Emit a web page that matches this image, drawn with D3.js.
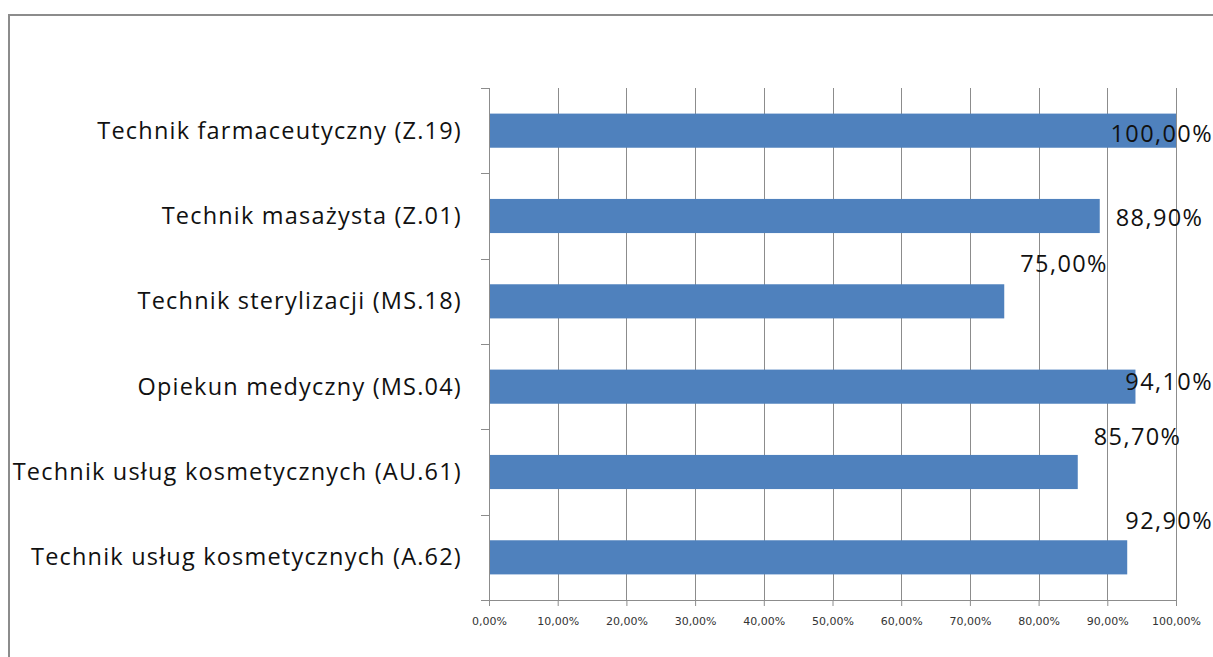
<!DOCTYPE html>
<html>
<head>
<meta charset="utf-8">
<script src="https://cdn.jsdelivr.net/npm/d3@7"></script>
<style>
  html, body { margin: 0; padding: 0; background: #fff; }
  svg { display: block; }
</style>
</head>
<body>
<div id="chart"></div>
<script>
var categories = [
    "Technik farmaceutyczny (Z.19)",
    "Technik masażysta (Z.01)",
    "Technik sterylizacji (MS.18)",
    "Opiekun medyczny (MS.04)",
    "Technik usług kosmetycznych (AU.61)",
    "Technik usług kosmetycznych (A.62)"
];
var values = [100.0, 88.9, 75.0, 94.1, 85.7, 92.9];
var xTicks = [0, 10, 20, 30, 40, 50, 60, 70, 80, 90, 100];

function pct(v) { return v.toFixed(2).replace(".", ",") + "%"; }

var W = 1213, H = 657;
var margin = {top: 88, right: 37, bottom: 57, left: 489};
var width = W - margin.left - margin.right;
var height = H - margin.top - margin.bottom;

var root = d3.select("#chart").append("svg")
    .attr("width", W)
    .attr("height", H);

// outer frame
root.append("rect")
    .attr("x", 9).attr("y", 15)
    .attr("width", W + 20).attr("height", H + 20)
    .attr("fill", "none")
    .attr("stroke", "#8c8c8c")
    .attr("stroke-width", 2);

var svg = root.append("g")
    .attr("transform", "translate(" + margin.left + "," + margin.top + ")");

var x = d3.scaleLinear().domain([0, 100]).range([0, width]);
var y = d3.scaleBand().domain(categories).range([0, height]).paddingInner(0.6).paddingOuter(0.3);
var yb = d3.scaleBand().domain(categories).range([0, height]);

// vertical gridlines
svg.append("g")
    .selectAll("line")
    .data(xTicks.slice(1))
    .enter().append("line")
    .attr("x1", function(d) { return Math.round(x(d)) + 0.5; })
    .attr("x2", function(d) { return Math.round(x(d)) + 0.5; })
    .attr("y1", 0).attr("y2", height)
    .attr("stroke", "#8c8c8c").attr("stroke-width", 1);

// bars
svg.selectAll(".bar")
    .data(values)
    .enter().append("rect")
    .attr("class", "bar")
    .attr("x", 0)
    .attr("y", function(d, i) { return y(categories[i]); })
    .attr("width", function(d) { return x(d); })
    .attr("height", y.bandwidth())
    .attr("fill", "#4f81bd");

// x axis
var xAxis = svg.append("g")
    .attr("transform", "translate(0," + height + ")")
    .call(d3.axisBottom(x).tickValues(xTicks).tickSize(6).tickSizeOuter(0).tickFormat(pct));
xAxis.select(".domain").attr("stroke", "#8c8c8c");
xAxis.selectAll(".tick line").attr("stroke", "#8c8c8c");
xAxis.selectAll("text")
    .attr("y", 17)
    .style("font-family", "'DejaVu Sans', sans-serif")
    .style("font-size", "11px")
    .style("fill", "#333");

// y axis
var yAxisG = svg.append("g");
yAxisG.append("line")
    .attr("x1", 0.5).attr("x2", 0.5).attr("y1", 0).attr("y2", height)
    .attr("stroke", "#8c8c8c");
yAxisG.selectAll(".ytick")
    .data(d3.range(categories.length + 1))
    .enter().append("line")
    .attr("x1", -8).attr("x2", 0)
    .attr("y1", function(i) { return Math.round(i * yb.step()) + 0.5; })
    .attr("y2", function(i) { return Math.round(i * yb.step()) + 0.5; })
    .attr("stroke", "#8c8c8c");

yAxisG.selectAll(".ylabel")
    .data(categories)
    .enter().append("text")
    .attr("x", -27)
    .attr("y", function(d) { return yb(d) + yb.bandwidth() / 2 + 8; })
    .attr("text-anchor", "end")
    .style("font-family", "'Open Sans', sans-serif")
    .style("font-size", "23.5px")
    .style("letter-spacing", "1.2px")
    .style("fill", "#111")
    .text(function(d) { return d; });

// data labels (Excel placed them a bit irregularly)
var labelDy = [11, 10, -29, 3, -27, -28];
var rightLimit = W - margin.left;
svg.selectAll(".dlabel")
    .data(values)
    .enter().append("text")
    .attr("class", "dlabel")
    .attr("y", function(d, i) { return y(categories[i]) + y.bandwidth() / 2 + labelDy[i]; })
    .style("font-family", "'Open Sans', sans-serif")
    .style("font-size", "23.5px")
    .style("letter-spacing", "1.4px")
    .style("fill", "#111")
    .text(function(d) { return pct(d); })
    .attr("x", function(d) {
        var w = this.getComputedTextLength();
        return Math.min(x(d) + 16, rightLimit - w);
    });
</script>
</body>
</html>
